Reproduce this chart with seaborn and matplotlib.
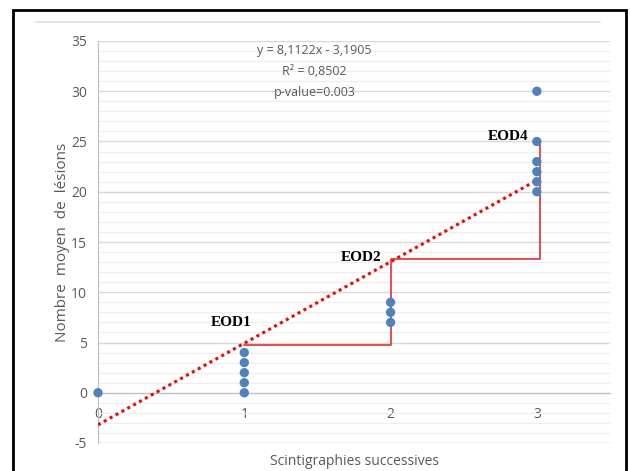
import numpy as np
import pandas as pd
import matplotlib
matplotlib.use("Agg")
import matplotlib.pyplot as plt
import seaborn as sns
from matplotlib.lines import Line2D
from matplotlib.patches import Rectangle

# data
scan_x = [0, 1, 1, 1, 1, 1, 2, 2, 2, 3, 3, 3, 3, 3, 3]
lesions = [0, 0, 1, 2, 3, 4, 7, 8, 9, 20, 21, 22, 23, 25, 30]
slope = 8.1122
intercept = -3.1905
fit_x = [0, 3]
step_x = [1, 2, 2, 3.02, 3.02]
step_y = [4.8, 4.8, 13.3, 13.3, 25]
eod_labels = ["EOD1", "EOD2", "EOD4"]
eod_x = [0.91, 1.80, 2.80]
eod_y = [7.0, 13.5, 25.5]
eq_lines = ["y = 8,1122x - 3,1905", "R² = 0,8502", "p-value=0.003"]

df = pd.DataFrame({"x": scan_x, "y": lesions})

sns.set_style("white")
plt.rcParams["font.family"] = ["Open Sans", "DejaVu Sans"]
plt.rcParams["axes.unicode_minus"] = False
grey = "#595959"

fig = plt.figure(figsize=(6.3, 4.71), dpi=100)
ax = fig.add_axes([98 / 630, 28 / 471, 512 / 630, 402 / 471])

ax.set_xlim(0, 3.5)
ax.set_ylim(-5, 35)
ax.set_yticks(np.arange(-5, 36, 5))
ax.set_yticks(np.arange(-5, 36, 1), minor=True)
ax.grid(axis="y", which="major", color="#d9d9d9", lw=1.0)
ax.grid(axis="y", which="minor", color="#eeeeee", lw=0.9)
ax.set_axisbelow(True)

for s in ["top", "right"]:
    ax.spines[s].set_visible(False)
ax.spines["left"].set_color("#bfbfbf")
ax.spines["bottom"].set_position(("data", 0))
ax.spines["bottom"].set_color("#bfbfbf")
ax.axhline(-5, color="#d0d0d0", lw=1)

ax.set_xticks(np.arange(0, 3.6, 0.5))
ax.set_xticklabels(["0", "", "1", "", "2", "", "3", ""])
ax.tick_params(axis="x", direction="out", length=4, color="#bfbfbf",
               labelcolor=grey, labelsize=10, pad=6)
ax.tick_params(axis="y", which="major", direction="out", length=4, color="#bfbfbf",
               labelcolor=grey, labelsize=10, pad=4)
ax.tick_params(axis="y", which="minor", length=0)

# trend line and steps
fx = np.array(fit_x)
ax.plot(fx, slope * fx + intercept, color="#ff0000", ls=(0, (1, 1.2)), lw=2.2, zorder=3)
ax.plot(step_x, step_y, color="#ee2a2a", lw=1.2, zorder=3)

sns.scatterplot(data=df, x="x", y="y", ax=ax, color="#4f81bd", s=45,
                edgecolor="none", zorder=4, clip_on=False)

for lab, lx, ly in zip(eod_labels, eod_x, eod_y):
    ax.text(lx, ly, lab, ha="center", va="center", fontsize=11, fontweight="bold",
            family="Liberation Serif", color="black")

for i, t in enumerate(eq_lines):
    ax.text(1.48, 34.1 - 2.1 * i, t, ha="center", va="center", fontsize=9, color=grey)

ax.set_xlabel("Scintigraphies successives", color=grey, fontsize=10, va="center")
ax.xaxis.set_label_coords(0.5, -0.045)
ax.set_ylabel("Nombre  moyen  de  lésions", color=grey, fontsize=11, va="center")
ax.yaxis.set_label_coords(-0.07, 0.5)

# chart frame
fig.add_artist(Line2D([36 / 630, 600 / 630], [449 / 471, 449 / 471],
                      color="#dddddd", lw=1.2, transform=fig.transFigure))
fig.add_artist(Rectangle((13 / 630, -0.05), 613 / 630, 1.05 - 10 / 471,
                         fill=False, ec="black", lw=2, transform=fig.transFigure))

fig.savefig("out.png", dpi=100)
